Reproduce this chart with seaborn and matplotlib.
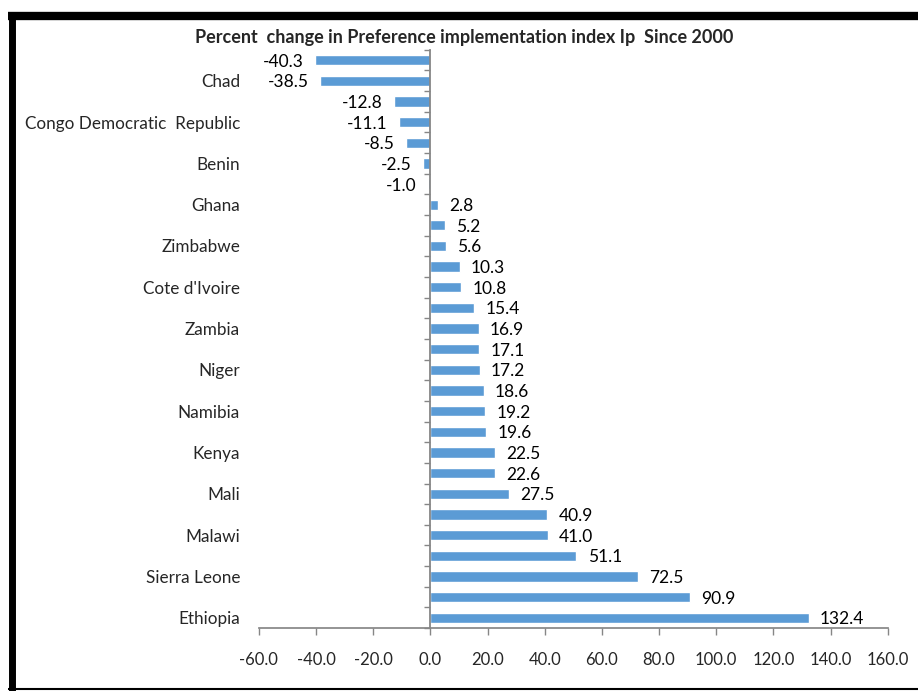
import matplotlib
matplotlib.use("Agg")
import matplotlib.pyplot as plt
import seaborn as sns
import pandas as pd
from matplotlib.lines import Line2D
from matplotlib.ticker import FixedLocator, FormatStrFormatter

# Data (top to bottom as drawn)
values = [-40.3, -38.5, -12.8, -11.1, -8.5, -2.5, -1.0, 2.8, 5.2, 5.6,
          10.3, 10.8, 15.4, 16.9, 17.1, 17.2, 18.6, 19.2, 19.6, 22.5,
          22.6, 27.5, 40.9, 41.0, 51.1, 72.5, 90.9, 132.4]
tick_labels = ["", "Chad", "", "Congo Democratic  Republic", "", "Benin", "",
               "Ghana", "", "Zimbabwe", "", "Cote d'Ivoire", "", "Zambia", "",
               "Niger", "", "Namibia", "", "Kenya", "", "Mali", "", "Malawi", "",
               "Sierra Leone", "", "Ethiopia"]
bar_ids = [f"bar{i:02d}" for i in range(len(values))]
title = "Percent  change in Preference implementation index Ip  Since 2000"
x_ticks = [-60, -40, -20, 0, 20, 40, 60, 80, 100, 120, 140, 160]

sns.set_theme(style="white")
plt.rcParams['font.family'] = ['Lato', 'DejaVu Sans']

df = pd.DataFrame({"id": bar_ids, "value": values})

fig = plt.figure(figsize=(9.18, 6.91), dpi=100)
ax = fig.add_axes([0.282, 0.091, 0.685, 0.837])

sns.barplot(data=df, x="value", y="id", orient="h", color="#5B9BD5",
            saturation=1, width=0.5, ax=ax)

for c in ax.containers:
    texts = ax.bar_label(c, labels=[f"{v:.1f}" for v in values], padding=8,
                         fontsize=12.5, color="#000000")
    for t in texts:
        t.set_va("center_baseline")

ax.set_xlim(-60, 160)
ax.set_ylim(len(values) - 0.5, -0.5)
ax.xaxis.set_major_locator(FixedLocator(x_ticks))
ax.xaxis.set_major_formatter(FormatStrFormatter("%.1f"))
ax.set_yticks(range(len(values)))
ax.set_yticks([i - 0.5 for i in range(len(values) + 1)], minor=True)
ax.set_yticklabels(tick_labels)
ax.tick_params(axis="y", which="major", left=True, length=0, pad=137, labelsize=12.3)
ax.tick_params(axis="y", which="minor", left=True, length=4, color="#868686",
               width=1, direction="out")
ax.tick_params(axis="x", which="major", bottom=True, length=5, color="#868686",
               width=1, direction="out", pad=12, labelsize=12)
ax.set_xlabel("")
ax.set_ylabel("")

for s in ["top", "right"]:
    ax.spines[s].set_visible(False)
ax.spines["left"].set_position(("data", 0))
ax.spines["left"].set_color("#868686")
ax.spines["left"].set_linewidth(1.3)
ax.spines["left"].set_zorder(3)
ax.spines["bottom"].set_color("#868686")

fig.text(0.506, 0.934, title, ha="center", va="bottom", fontsize=13, fontweight="bold")

# outer frame
fig.add_artist(Line2D([8/918, 1.0], [1 - 16/691, 1 - 16/691], transform=fig.transFigure,
                      color="black", lw=6, solid_capstyle="butt"))
fig.add_artist(Line2D([11.5/918, 11.5/918], [1 - 12/691, 0], transform=fig.transFigure,
                      color="black", lw=5, solid_capstyle="butt"))
fig.add_artist(Line2D([8/918, 1.0], [1 - 689/691, 1 - 689/691], transform=fig.transFigure,
                      color="black", lw=1.5, solid_capstyle="butt"))

fig.savefig("out.png", dpi=100)
